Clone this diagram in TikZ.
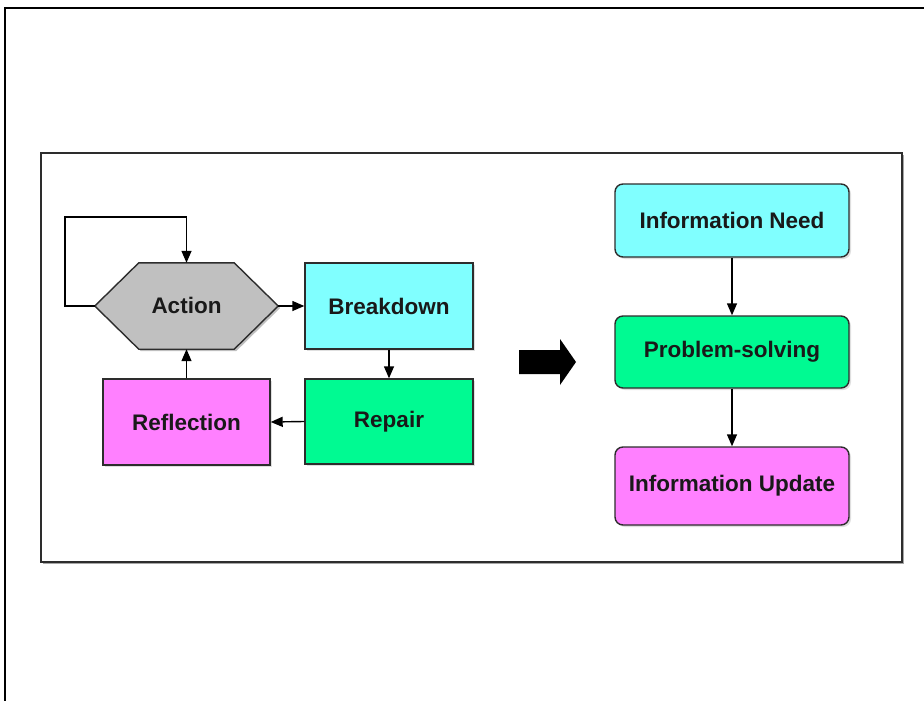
\documentclass[tikz,border=0pt]{standalone}
\usepackage{fontspec}
\setmainfont{Liberation Sans}
\usetikzlibrary{arrows.meta,shadows,calc}
\definecolor{cyanfill}{RGB}{128,255,255}
\definecolor{greenfill}{RGB}{0,250,146}
\definecolor{magfill}{RGB}{255,128,255}
\definecolor{grayfill}{RGB}{192,192,192}
\definecolor{edge}{RGB}{45,45,45}
\tikzset{
  lbl/.style={font=\fontsize{22.5}{26}\selectfont\bfseries, text=black!90},
  box/.style={lbl, draw=edge, line width=1.4pt, inner sep=0pt,
    drop shadow={shadow xshift=2pt, shadow yshift=-2pt, opacity=0.25}},
  rbox/.style={box, rounded corners=8pt, minimum width=234pt},
  conn/.style={line width=1.4pt, -{Triangle[length=12pt,width=10pt]}},
}
\begin{document}
\begin{tikzpicture}[x=1pt,y=-1pt]
\useasboundingbox (0,0) rectangle (924,701);
% outer frame (top and left)
\draw[line width=2.6pt] (924,8) -- (5,8) -- (5,701);
% inner frame
\fill[black!35] (43,155) rectangle (904,564);
\draw[line width=1.3pt, draw=edge, fill=white] (41,153) rectangle (902,562);
% left cycle
\node[minimum width=183pt, minimum height=86pt, inner sep=0pt] (action) at (186.5,306) {};
\path[fill=black, opacity=0.25] ([shift={(2,2)}]action.west) -- ([shift={(46,2)}]action.north west) -- ([shift={(-42,2)}]action.north east) -- ([shift={(2,2)}]action.east) -- ([shift={(-42,2)}]action.south east) -- ([shift={(46,2)}]action.south west) -- cycle;
\draw[draw=edge, line width=1.4pt, fill=grayfill] (action.west) -- ([xshift=44]action.north west) -- ([xshift=-44]action.north east) -- (action.east) -- ([xshift=-44]action.south east) -- ([xshift=44]action.south west) -- cycle;
\node[lbl] (actiontext) at ([yshift=1]action.center) {Action};
\node[box, fill=cyanfill, minimum width=168pt, minimum height=86pt] (break) at (389,306) {Breakdown};
\node[box, fill=greenfill, minimum width=168pt, minimum height=85pt] (repair) at (389,421.5) {Repair};
\node[box, fill=magfill, minimum width=167pt, minimum height=86pt] (refl) at (186.5,422) {Reflection};
\draw[conn] (action.east) -- (break.west);
\draw[conn] (break.south) -- (repair.north);
\draw[conn] (repair.west) -- (refl.east);
\draw[conn] (refl.north) -- (action.south);
\coordinate (loopa) at (65,217);
\draw[conn] (action.west) -- (loopa |- action.west) -- (loopa) -- (action.north |- loopa) -- (action.north);
% big arrow
\fill[black] (519,350) -- (560,350) -- (560,339) -- (576,362) -- (560,385) -- (560,374) -- (519,374) -- cycle;
% right column
\node[rbox, fill=cyanfill, minimum height=73pt] (need) at (732,220.5) {Information Need};
\node[rbox, fill=greenfill, minimum height=72pt] (prob) at (732,352) {Problem-solving};
\node[rbox, fill=magfill, minimum height=78pt] (upd) at (732,486) {Information Update};
\draw[conn] (need.south) -- (prob.north);
\draw[conn] (prob.south) -- (upd.north);
\end{tikzpicture}
\end{document}
